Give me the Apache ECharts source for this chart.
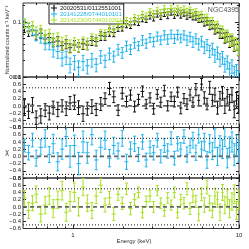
<!DOCTYPE html>
<html><head><meta charset="utf-8">
<script src="https://cdn.jsdelivr.net/npm/echarts@6/dist/echarts.min.js"></script>
<style>html,body{margin:0;padding:0;background:#fff}#c{width:249px;height:249px}</style>
</head><body><div id="c"></div>
<script>
// ---- data ----
const energy = [
0.51,0.54,0.57,0.60,0.64,0.68,0.72,0.76,0.81,0.86,
0.91,0.96,1.02,1.08,1.15,1.22,1.30,1.38,1.47,1.56,
1.66,1.76,1.87,1.98,2.10,2.22,2.35,2.48,2.62,2.76,
2.91,3.06,3.22,3.38,3.55,3.72,3.90,4.08,4.27,4.46,
4.66,4.86,5.07,5.28,5.50,5.72,5.95,6.18,6.42,6.66,
6.91,7.16,7.42,7.68,7.95,8.22,8.50,8.78,9.07,9.36,
9.66,9.92];

const seriesNames = ['20020531/0112551001','20141228/0744010101','20141230/0744010201'];

const fluxBlack = [
0.082,0.068,0.071,0.058,0.062,0.049,0.052,0.043,0.045,0.037,
0.040,0.034,0.038,0.035,0.040,0.038,0.046,0.044,0.056,0.055,
0.066,0.064,0.079,0.081,0.092,0.088,0.104,0.100,0.118,0.112,
0.131,0.122,0.140,0.128,0.147,0.133,0.152,0.136,0.150,0.139,
0.147,0.131,0.142,0.126,0.130,0.115,0.118,0.101,0.104,0.088,
0.090,0.074,0.077,0.063,0.062,0.052,0.054,0.044,0.046,0.038,
0.039,0.032];
const errBlack = [
0.22,0.20,0.21,0.19,0.20,0.18,0.19,0.18,0.20,0.17,
0.19,0.18,0.20,0.19,0.21,0.18,0.19,0.17,0.18,0.16,
0.17,0.16,0.15,0.16,0.15,0.14,0.15,0.14,0.15,0.13,
0.14,0.15,0.13,0.14,0.15,0.14,0.13,0.15,0.14,0.16,
0.14,0.15,0.16,0.14,0.17,0.15,0.16,0.17,0.16,0.18,
0.17,0.19,0.18,0.20,0.19,0.21,0.20,0.22,0.21,0.23,
0.22,0.24];
const residBlack = [
-0.05,-0.15,0.02,-0.33,-0.28,-0.12,-0.20,-0.05,-0.10,0.00,
-0.08,0.08,0.10,-0.05,-0.22,-0.08,-0.02,-0.10,0.05,0.20,
0.48,0.25,-0.12,0.35,0.12,0.30,-0.02,0.18,0.40,0.05,
0.22,-0.08,0.32,0.10,0.42,0.00,0.25,0.12,0.38,-0.06,
0.20,0.05,0.30,0.10,0.45,0.15,0.60,0.22,0.05,0.50,
0.15,0.30,-0.05,0.20,0.35,0.00,0.25,0.10,0.30,-0.10,
0.15,0.05];

const fluxBlue = [
0.092,0.078,0.071,0.058,0.052,0.041,0.040,0.031,0.029,0.022,
0.023,0.017,0.019,0.015,0.019,0.016,0.021,0.017,0.024,0.020,
0.027,0.024,0.032,0.028,0.037,0.032,0.042,0.037,0.047,0.041,
0.052,0.044,0.055,0.047,0.058,0.049,0.060,0.050,0.059,0.051,
0.058,0.047,0.054,0.044,0.050,0.040,0.045,0.035,0.039,0.030,
0.033,0.025,0.028,0.021,0.023,0.017,0.019,0.014,0.016,0.012,
0.013,0.010];
const errBlue = [
0.18,0.20,0.19,0.22,0.21,0.24,0.22,0.26,0.25,0.28,
0.27,0.30,0.29,0.31,0.30,0.29,0.28,0.27,0.26,0.25,
0.24,0.23,0.22,0.22,0.21,0.20,0.21,0.19,0.20,0.19,
0.18,0.20,0.19,0.18,0.19,0.20,0.18,0.19,0.20,0.18,
0.19,0.21,0.20,0.22,0.21,0.23,0.22,0.24,0.23,0.25,
0.24,0.26,0.25,0.27,0.26,0.28,0.27,0.29,0.28,0.30,
0.29,0.31];
const residBlue = [
0.30,0.10,0.45,-0.05,0.25,0.50,0.05,0.35,-0.15,0.20,
0.55,0.00,0.30,-0.20,0.40,0.10,0.60,-0.10,0.25,0.45,
-0.05,0.30,0.15,0.50,-0.15,0.20,0.35,0.05,0.40,-0.10,
0.25,0.10,0.45,0.00,0.30,0.15,0.50,-0.05,0.35,0.20,
0.55,0.05,0.30,0.45,0.10,0.60,0.20,0.40,-0.10,0.35,
0.15,0.50,0.00,0.30,0.20,0.55,-0.05,0.25,0.40,0.05,
0.30,0.15];

const fluxGreen = [
0.095,0.080,0.084,0.066,0.071,0.057,0.060,0.049,0.051,0.042,
0.045,0.037,0.041,0.038,0.043,0.041,0.050,0.048,0.061,0.060,
0.073,0.071,0.088,0.090,0.104,0.099,0.118,0.113,0.134,0.126,
0.150,0.139,0.162,0.146,0.170,0.152,0.175,0.155,0.172,0.158,
0.168,0.150,0.160,0.142,0.148,0.128,0.132,0.113,0.116,0.098,
0.100,0.082,0.085,0.069,0.069,0.057,0.058,0.048,0.049,0.041,
0.041,0.034];
const errGreen = [
0.20,0.22,0.21,0.23,0.22,0.24,0.23,0.25,0.24,0.26,
0.25,0.27,0.26,0.25,0.24,0.23,0.22,0.21,0.20,0.19,
0.18,0.18,0.17,0.17,0.16,0.17,0.16,0.15,0.16,0.15,
0.16,0.15,0.14,0.15,0.16,0.15,0.14,0.15,0.16,0.15,
0.16,0.17,0.16,0.18,0.17,0.19,0.18,0.20,0.19,0.21,
0.20,0.22,0.21,0.23,0.22,0.24,0.23,0.25,0.24,0.26,
0.25,0.27];
const residGreen = [
0.25,-0.10,0.10,0.35,-0.20,0.05,0.30,-0.05,0.20,0.45,
-0.15,0.15,0.40,0.00,0.55,0.10,-0.10,0.30,0.60,0.05,
0.25,-0.20,0.35,0.10,0.50,-0.05,0.20,0.40,-0.15,0.15,
0.30,0.00,0.45,0.10,-0.10,0.25,0.05,0.40,-0.15,0.20,
0.10,0.50,-0.05,0.30,0.15,-0.20,0.35,0.05,0.55,0.10,
-0.10,0.30,0.20,-0.15,0.40,0.05,0.25,-0.05,0.15,0.35,
-0.10,0.20];

const xMajorTicks = [1, 10];
const xMinorTicks = [0.6,0.7,0.8,0.9,2,3,4,5,6,7,8,9];
const xLabels = [1, 10];
const yTopMajorTicks = [0.01, 0.1];
const yTopMinorTicks = [0.02,0.03,0.04,0.05,0.06,0.07,0.08,0.09,0.2];
const yTopLabels = [0.01, 0.1];
const refLines = [0, 0.5, -0.5];

// ---- drawing ----
const FONT = 'Liberation Sans';
const colors = ['#111111', '#22b4ee', '#a8e024'];
const fluxes = [fluxBlack, fluxBlue, fluxGreen];
const errs = [errBlack, errBlue, errGreen];
const resids = [residBlack, residBlue, residGreen];

const n = energy.length;
const mids = [];
for (let i = 0; i < n - 1; i++) mids.push(Math.sqrt(energy[i] * energy[i + 1]));
const lefts = energy.map((e, i) => i === 0 ? e * e / mids[0] : mids[i - 1]);
const rights = energy.map((e, i) => i === n - 1 ? e * e / mids[n - 2] : mids[i]);

const grids = [
  {left: 23, right: 10, top: 3, height: 74},
  {left: 23, right: 10, top: 77, height: 50.5},
  {left: 23, right: 10, top: 127.5, height: 50.5},
  {left: 23, right: 10, top: 178, height: 50.5}
].map(g => Object.assign(g, {show: true, borderColor: '#333', borderWidth: 1, backgroundColor: 'transparent'}));

const xAxes = [], yAxes = [];
function addX(g, pos, ticks, len, labels) {
  xAxes.push({
    type: 'log', logBase: 10, gridIndex: g, min: 0.5, max: 10, position: pos,
    axisLine: {show: false, onZero: false}, splitLine: {show: false},
    axisTick: {show: true, inside: true, length: len, customValues: ticks, lineStyle: {color: '#222', width: 1}},
    axisLabel: labels ? {show: true, customValues: labels, fontSize: 6, color: '#222', fontFamily: FONT, margin: 4} : {show: false}
  });
  return xAxes.length - 1;
}
function addYLog(pos, ticks, len, labels) {
  yAxes.push({
    type: 'log', logBase: 10, gridIndex: 0, min: 0.01, max: 0.22, position: pos,
    axisLine: {show: false, onZero: false}, splitLine: {show: false},
    axisTick: {show: true, inside: true, length: len, customValues: ticks, lineStyle: {color: '#222', width: 1}},
    axisLabel: labels ? {show: true, customValues: labels, fontSize: 6, color: '#222', fontFamily: FONT, margin: 2} : {show: false}
  });
  return yAxes.length - 1;
}
function addYRes(g, pos, labels) {
  yAxes.push({
    type: 'value', gridIndex: g, min: -0.6, max: 0.8, interval: 0.2, position: pos,
    axisLine: {show: false, onZero: false}, splitLine: {show: false},
    axisTick: {show: true, inside: true, length: 3, lineStyle: {color: '#222', width: 1}},
    axisLabel: labels ? {show: true, fontSize: 6, color: '#222', fontFamily: FONT, margin: 2,
      formatter: v => (v < -1e-9 ? '\u2212' : '') + Math.abs(v).toFixed(1)} : {show: false}
  });
  return yAxes.length - 1;
}

const mainX = [], mainY = [];
for (let g = 0; g < 4; g++) {
  mainX.push(addX(g, 'bottom', xMinorTicks, 2, g === 3 ? xLabels : null));
  addX(g, 'bottom', xMajorTicks, 4, null);
  addX(g, 'top', xMinorTicks, 2, null);
  addX(g, 'top', xMajorTicks, 4, null);
}
mainY.push(addYLog('left', yTopMinorTicks, 2, yTopLabels));
addYLog('left', yTopMajorTicks, 4, null);
addYLog('right', yTopMinorTicks, 2, null);
addYLog('right', yTopMajorTicks, 4, null);
for (let g = 1; g < 4; g++) {
  mainY.push(addYRes(g, 'left', true));
  addYRes(g, 'right', false);
}

function renderErr(params, api) {
  const x = api.value(0), y = api.value(1), lo = api.value(2), hi = api.value(3);
  const x0 = api.value(4), x1 = api.value(5);
  const p = api.coord([x, y]), pl = api.coord([x, lo]), ph = api.coord([x, hi]);
  const a = api.coord([x0, y]), b = api.coord([x1, y]);
  const style = {stroke: api.visual('color'), lineWidth: 1, fill: null};
  return {type: 'group', children: [
    {type: 'line', shape: {x1: p[0], y1: pl[1], x2: p[0], y2: ph[1]}, style},
    {type: 'line', shape: {x1: a[0], y1: p[1], x2: b[0], y2: p[1]}, style},
    {type: 'line', shape: {x1: p[0] - 1.5, y1: ph[1], x2: p[0] + 1.5, y2: ph[1]}, style},
    {type: 'line', shape: {x1: p[0] - 1.5, y1: pl[1], x2: p[0] + 1.5, y2: pl[1]}, style}
  ]};
}

const series = [];
for (let s = 0; s < 3; s++) {
  const f = fluxes[s], e = errs[s], r = resids[s];
  series.push({
    type: 'custom', name: seriesNames[s], xAxisIndex: mainX[0], yAxisIndex: mainY[0],
    renderItem: renderErr, clip: true, itemStyle: {color: colors[s]}, z: 2 + s,
    data: energy.map((en, i) => [en, f[i], f[i] * (1 - e[i]), f[i] * (1 + e[i]), lefts[i], rights[i]])
  });
  series.push({
    type: 'custom', name: seriesNames[s], xAxisIndex: mainX[s + 1], yAxisIndex: mainY[s + 1],
    renderItem: renderErr, clip: true, itemStyle: {color: colors[s]}, z: 2,
    data: energy.map((en, i) => [en, r[i], r[i] - e[i], r[i] + e[i], lefts[i], rights[i]])
  });
}
for (let g = 1; g < 4; g++) {
  refLines.forEach(v => {
    series.push({
      type: 'line', xAxisIndex: mainX[g], yAxisIndex: mainY[g], symbol: 'none', silent: true, z: 8,
      data: [[0.5, v], [10, v]],
      lineStyle: v === 0 ? {color: '#666', width: 1.6, type: [4, 3]} : {color: '#111', width: 1, type: [1, 2]}
    });
  });
}

const plusIcon = 'path://M4,0H6V4H10V6H6V10H4V6H0V4H4Z';
const option = {
  animation: false,
  backgroundColor: '#fff',
  grid: grids,
  xAxis: xAxes,
  yAxis: yAxes,
  legend: {
    left: 49, top: 4, orient: 'vertical', itemGap: 0, itemWidth: 6, itemHeight: 6,
    padding: [1, 2, 1, 2], backgroundColor: '#fff', borderColor: '#222', borderWidth: 1,
    textStyle: {fontSize: 6, fontFamily: FONT, padding: [0, 0, 0, -2]},
    data: seriesNames.map((nm, i) => ({name: nm, icon: plusIcon, textStyle: {color: colors[i]}})),
    selectedMode: false
  },
  graphic: [
    {type: 'text', x: 239, y: 10, style: {text: 'NGC4395', fontSize: 7, fontFamily: FONT, fill: '#555', align: 'right', verticalAlign: 'middle'}, z: 20},
    {type: 'text', x: 7, y: 40, rotation: Math.PI / 2, style: {text: 'Normalized counts s\u207B\u00B9 keV\u207B\u00B9', fontSize: 5.5, fontFamily: FONT, fill: '#333', align: 'center', verticalAlign: 'middle'}},
    {type: 'text', x: 7, y: 152, style: {text: '\u03C7', fontSize: 7, fontFamily: FONT, fill: '#333', align: 'center', verticalAlign: 'middle'}},
    {type: 'text', x: 134, y: 241, style: {text: 'Energy (keV)', fontSize: 6, fontFamily: FONT, fill: '#333', align: 'center', verticalAlign: 'middle'}}
  ],
  series: series
};
const chart = echarts.init(document.getElementById('c'), null, {renderer: 'canvas'});
chart.setOption(option);
</script></body></html>
